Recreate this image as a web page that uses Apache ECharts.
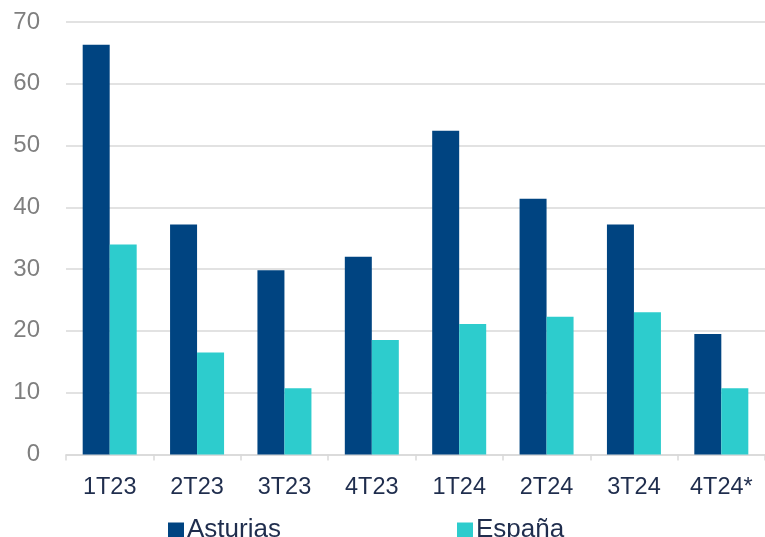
<!DOCTYPE html>
<html>
<head>
<meta charset="utf-8">
<script src="https://cdn.jsdelivr.net/npm/echarts@6/dist/echarts.min.js"></script>
<style>html,body{margin:0;padding:0;background:#fff;}#c{width:765px;height:537px;}</style>
</head>
<body>
<div id="c"></div>
<script>
var categories = ['1T23','2T23','3T23','4T23','1T24','2T24','3T24','4T24*'];
var asturias = [66.3, 37.2, 29.8, 32.0, 52.4, 41.4, 37.2, 19.5];
var espana = [34.0, 16.5, 10.7, 18.5, 21.1, 22.3, 23.0, 10.7];
var yTicks = {min: 0, max: 70, interval: 10};

var chart = echarts.init(document.getElementById('c'), null, {renderer: 'canvas'});
var font = 'Liberation Sans, Arial, sans-serif';
chart.setOption({
  animation: false,
  backgroundColor: '#ffffff',
  grid: {left: 66, top: 22, width: 702, bottom: 82.6, containLabel: false},
  legend: [
    {data: ['Asturias'], left: 163, top: 512, itemWidth: 16, itemHeight: 15, icon: 'rect',
     textStyle: {fontFamily: font, fontSize: 26, color: '#1f2d4d', padding: [0,0,0,-2]}},
    {data: ['España'], left: 452, top: 512, itemWidth: 16, itemHeight: 15, icon: 'rect',
     textStyle: {fontFamily: font, fontSize: 26, color: '#1f2d4d', padding: [0,0,0,-2]}}
  ],
  xAxis: {
    type: 'category',
    data: categories,
    axisLine: {show: true, lineStyle: {color: '#d9d9d9', width: 1.5}},
    axisTick: {show: true, length: 6, lineStyle: {color: '#d9d9d9', width: 1.5}},
    axisLabel: {fontFamily: font, fontSize: 23.5, color: '#1f2d4d', margin: 21}
  },
  yAxis: {
    type: 'value',
    min: yTicks.min, max: yTicks.max, interval: yTicks.interval,
    axisLine: {show: false},
    axisTick: {show: false},
    splitLine: {lineStyle: {color: '#d9d9d9', width: 1.5}},
    axisLabel: {fontFamily: font, fontSize: 24, color: '#7f7f7f', margin: 26}
  },
  series: [
    {name: 'Asturias', type: 'bar', data: asturias, barWidth: 27, barGap: '0%',
     itemStyle: {color: '#004481'}},
    {name: 'España', type: 'bar', data: espana, barWidth: 27, barGap: '0%',
     itemStyle: {color: '#2dcccd'}}
  ]
});
</script>
</body>
</html>
